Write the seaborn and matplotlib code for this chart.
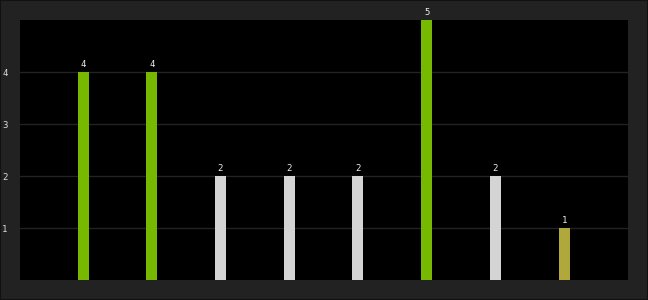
import matplotlib
matplotlib.use("Agg")
import matplotlib.pyplot as plt
import seaborn as sns
import pandas as pd
from matplotlib.patches import Rectangle

categories = ["A", "B", "C", "D", "E", "F", "G", "H"]
values = [4, 4, 2, 2, 2, 5, 2, 1]
bar_colors = ["#76b900", "#76b900", "#d4d4d4", "#d4d4d4", "#d4d4d4",
              "#76b900", "#d4d4d4", "#b0a83a"]
yticks = [1, 2, 3, 4]

sns.set_theme(style="dark")
plt.rcParams['font.family'] = ['DejaVu Sans Mono', 'DejaVu Sans']

df = pd.DataFrame({"cat": categories, "val": values})

fig = plt.figure(figsize=(6.48, 3.0), dpi=100)
fig.patch.set_facecolor("#222222")
ax = fig.add_axes([20/648, 20/300, 608/648, 260/300])
ax.set_facecolor("#000000")

sns.barplot(data=df, x="cat", y="val", hue="cat", palette=bar_colors,
            legend=False, width=0.16, ax=ax, saturation=1, zorder=3,
            linewidth=0, edgecolor="none")

ax.set_xlim(-0.917, 7.93)
ax.set_ylim(0, 5)
ax.set_yticks(yticks)
ax.set_yticklabels([str(t) for t in yticks])
ax.set_axisbelow(True)
ax.yaxis.grid(True, color="#232323", linewidth=1.0)
ax.xaxis.grid(False)
ax.set_xticks([])
ax.set_xlabel("")
ax.set_ylabel("")
ax.tick_params(axis="y", length=0, pad=9, labelsize=6.5, labelcolor="#dddddd")
for s in ax.spines.values():
    s.set_visible(False)

for i, v in enumerate(values):
    ax.annotate(str(v), (i, v), xytext=(0, 2), textcoords="offset points",
                ha="center", va="bottom", fontsize=6.5, color="#eeeeee",
                annotation_clip=False)

fig.patches.append(Rectangle((0, 0), 1, 1, transform=fig.transFigure,
                             fill=False, edgecolor="#111111", linewidth=1.5))

fig.savefig("out.png", dpi=100, facecolor=fig.get_facecolor())
